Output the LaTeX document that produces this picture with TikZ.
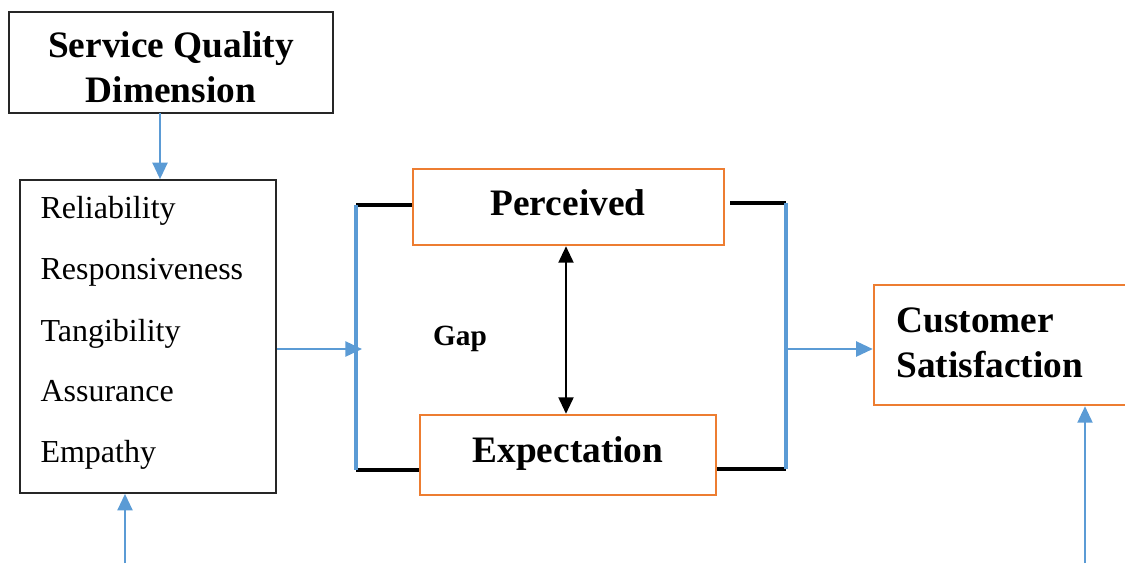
\documentclass[tikz,border=0pt]{standalone}
\usepackage{fontspec}
\setmainfont{Liberation Serif}
\usetikzlibrary{arrows.meta}
\definecolor{borange}{HTML}{ED7D31}
\definecolor{bblue}{HTML}{5B9BD5}
\tikzset{
  plainbox/.style={draw=black!85, line width=0.6pt, inner sep=0pt},
  orbox/.style={draw=borange, line width=0.9pt, inner sep=0pt},
  head/.style={font=\fontsize{14}{16.8}\selectfont\bfseries, inner sep=0pt, anchor=base},
  item/.style={font=\fontsize{12}{14}\selectfont, inner sep=0pt, anchor=base west},
  blueline/.style={draw=bblue, line width=1.3pt},
  bluearrow/.style={draw=bblue, line width=0.9pt, -{Triangle[length=6.2pt,width=5.6pt]}},
  blkline/.style={draw=black, line width=1.4pt},
  gaparrow/.style={draw=black, line width=0.9pt, {Triangle[length=6.2pt,width=5.6pt]}-{Triangle[length=6.2pt,width=5.6pt]}}
}
\begin{document}
\begin{tikzpicture}[x=0.375pt,y=-0.375pt]
\useasboundingbox (0,0) rectangle (1125,563);
% boxes
\node[plainbox, minimum width=121.5pt, minimum height=37.9pt] (sqd) at (171,62.5) {};
\node[head] (sqd1) at (171,57) {Service Quality};
\node[head] (sqd2) at (171,102) {Dimension};
\node[plainbox, minimum width=96pt, minimum height=117.4pt] (dims) at (148,336.5) {};
\node[item] (d1) at (40,218) {Reliability};
\node[item] (d2) at (40,279.5) {Responsiveness};
\node[item] (d3) at (40,341) {Tangibility};
\node[item] (d4) at (40,401.5) {Assurance};
\node[item] (d5) at (40,462) {Empathy};
\node[orbox, minimum width=116.6pt, minimum height=28.5pt] (per) at (568.5,207) {};
\node[head] (pert) at (568,215) {Perceived};
\node[orbox, minimum width=111pt, minimum height=30pt] (exp) at (568,455) {};
\node[head] (expt) at (568,462) {Expectation};
\node[orbox, minimum width=97.9pt, minimum height=45pt] (cs) at (1004.5,345) {};
\node[head, anchor=base west] (cs1) at (896,332) {Customer};
\node[head, anchor=base west] (cs2) at (896,377) {Satisfaction};
\node[font=\fontsize{11}{13}\selectfont\bfseries, inner sep=0pt, anchor=base] (gap) at (460,345) {Gap};
% coordinates
\coordinate (lt) at (356,205);
\coordinate (lb) at (356,470);
\coordinate (rt) at (786,203);
\coordinate (rb) at (786,469);
\coordinate (rts) at (730,203);
\coordinate (lin) at (362,349);
\coordinate (rout) at (786,349);
\coordinate (top) at (160,113);
\coordinate (bl) at (125,563);
\coordinate (br) at (1085,563);
\coordinate (gx) at (566,0);
% connectors
\draw[blkline] (per.west |- lt) -- (lt);
\draw[blkline] (lb) -- (exp.west |- lb);
\draw[blueline] (lt) -- (lb);
\draw[blkline] (rts) -- (rt);
\draw[blkline] (exp.east |- rb) -- (rb);
\draw[blueline] (rt) -- (rb);
\draw[bluearrow] (dims.east |- lin) -- (lin);
\draw[bluearrow] (rout) -- (cs.west |- rout);
\draw[bluearrow] (top) -- (dims.north -| top);
\draw[bluearrow] (bl) -- (dims.south -| bl);
\draw[bluearrow] (br) -- (cs.south -| br);
\draw[gaparrow] (per.south -| gx) -- (exp.north -| gx);
\end{tikzpicture}
\end{document}
